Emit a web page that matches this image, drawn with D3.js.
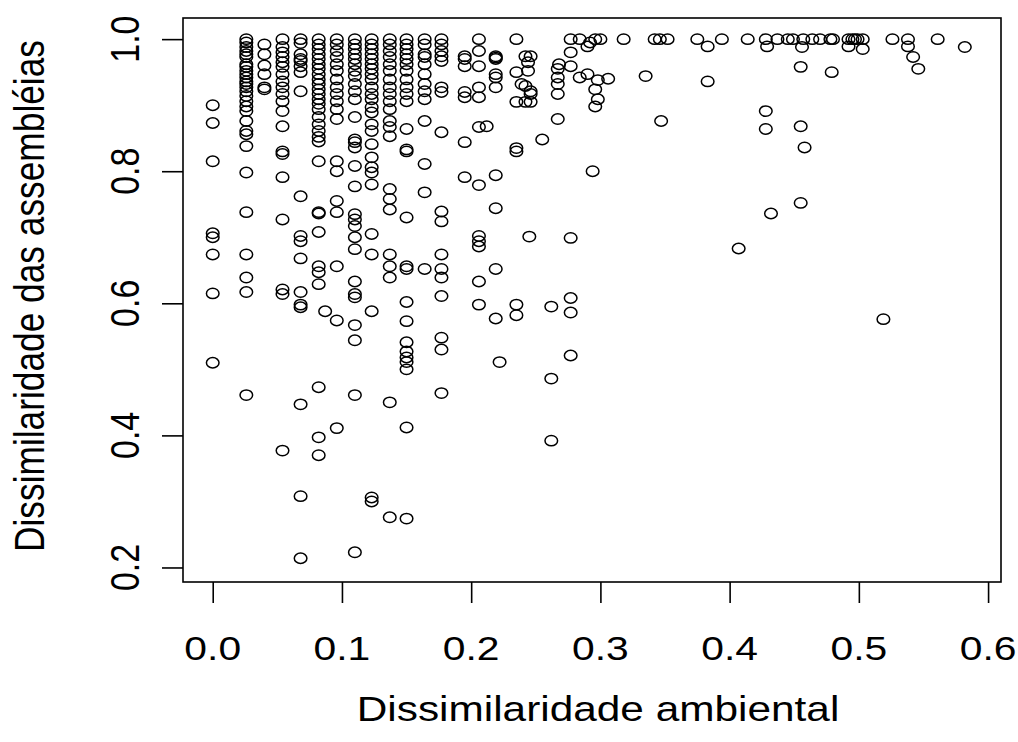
<!DOCTYPE html>
<html>
<head>
<meta charset="utf-8">
<script src="https://cdn.jsdelivr.net/npm/d3@7"></script>
<style>
  html, body { margin: 0; padding: 0; background: #fff; }
  svg { display: block; }
  text { font-family: "Liberation Sans", Arial, Helvetica, sans-serif; fill: #000; }
</style>
</head>
<body>
<div id="chart"></div>
<script>
// x positions of the dense columns on the left, and the y values in each
const colX = [0, 0.026, 0.040, 0.054, 0.068, 0.082, 0.096, 0.110, 0.123, 0.137, 0.150, 0.164, 0.177, 0.195, 0.206, 0.219];
const colY = [
  [0.900, 0.873, 0.815, 0.706, 0.700, 0.674, 0.615, 0.510],
  [1.0, 0.995, 0.988, 0.982, 0.977, 0.973, 0.962, 0.958, 0.952, 0.947, 0.942, 0.936, 0.932, 0.927, 0.921, 0.914, 0.906, 0.898, 0.891, 0.876, 0.861, 0.856, 0.838, 0.798, 0.738, 0.674, 0.639, 0.617, 0.461],
  [0.992, 0.977, 0.960, 0.947, 0.927, 0.924],
  [1.0, 0.988, 0.980, 0.973, 0.965, 0.958, 0.947, 0.936, 0.927, 0.917, 0.906, 0.891, 0.868, 0.830, 0.826, 0.791, 0.727, 0.621, 0.614, 0.377],
  [1.0, 0.994, 0.977, 0.970, 0.967, 0.959, 0.950, 0.921, 0.762, 0.702, 0.694, 0.668, 0.617, 0.598, 0.594, 0.447, 0.308, 0.214],
  [1.0, 0.992, 0.985, 0.977, 0.970, 0.962, 0.955, 0.947, 0.939, 0.932, 0.924, 0.917, 0.909, 0.902, 0.894, 0.882, 0.871, 0.861, 0.852, 0.845, 0.815, 0.738, 0.736, 0.708, 0.656, 0.647, 0.629, 0.473, 0.397, 0.370],
  [1.0, 0.992, 0.982, 0.973, 0.962, 0.952, 0.939, 0.927, 0.917, 0.906, 0.894, 0.879, 0.815, 0.800, 0.755, 0.738, 0.656, 0.574, 0.411],
  [1.0, 0.992, 0.985, 0.977, 0.970, 0.962, 0.952, 0.944, 0.932, 0.921, 0.909, 0.882, 0.848, 0.844, 0.836, 0.808, 0.777, 0.735, 0.727, 0.717, 0.700, 0.682, 0.633, 0.614, 0.609, 0.567, 0.544, 0.461, 0.223],
  [1.0, 0.992, 0.985, 0.977, 0.970, 0.962, 0.955, 0.947, 0.939, 0.927, 0.917, 0.909, 0.897, 0.889, 0.871, 0.861, 0.841, 0.821, 0.806, 0.798, 0.780, 0.705, 0.674, 0.588, 0.306, 0.300],
  [1.0, 0.992, 0.982, 0.973, 0.962, 0.952, 0.939, 0.927, 0.917, 0.906, 0.894, 0.876, 0.867, 0.853, 0.773, 0.758, 0.742, 0.674, 0.656, 0.639, 0.450, 0.276],
  [1.0, 0.992, 0.985, 0.977, 0.970, 0.962, 0.952, 0.939, 0.927, 0.917, 0.906, 0.864, 0.833, 0.830, 0.730, 0.656, 0.652, 0.602, 0.573, 0.541, 0.527, 0.518, 0.511, 0.500, 0.412, 0.274],
  [1.0, 0.992, 0.977, 0.973, 0.962, 0.947, 0.932, 0.921, 0.909, 0.876, 0.811, 0.768, 0.652],
  [1.0, 0.992, 0.982, 0.974, 0.967, 0.927, 0.920, 0.859, 0.739, 0.724, 0.674, 0.652, 0.639, 0.611, 0.548, 0.530, 0.464],
  [0.974, 0.970, 0.959, 0.920, 0.912, 0.844, 0.791],
  [1.0, 0.982, 0.959, 0.927, 0.912, 0.867, 0.779, 0.702, 0.694, 0.686, 0.633, 0.598],
  [0.974, 0.972, 0.970, 0.947, 0.942, 0.927, 0.794, 0.744, 0.652, 0.577]
];

// the sparser points to the right
const otherPts = [
  [0.087, 0.588], [0.212, 0.868], [0.222, 0.511],
  [0.235, 1.0], [0.235, 0.950], [0.235, 0.905], [0.235, 0.835], [0.235, 0.830], [0.235, 0.598], [0.235, 0.582],
  [0.239, 0.932], [0.242, 0.974], [0.246, 0.974], [0.244, 0.965], [0.244, 0.952], [0.242, 0.929],
  [0.246, 0.921], [0.246, 0.917], [0.242, 0.905], [0.246, 0.905], [0.245, 0.701],
  [0.255, 0.848], [0.262, 0.595], [0.262, 0.486], [0.262, 0.392],
  [0.268, 0.962], [0.267, 0.955], [0.267, 0.942], [0.267, 0.932], [0.267, 0.917], [0.267, 0.879],
  [0.277, 1.0], [0.277, 0.980], [0.277, 0.959], [0.277, 0.699], [0.277, 0.608], [0.277, 0.586], [0.277, 0.521],
  [0.284, 1.0], [0.284, 0.942], [0.290, 0.989], [0.290, 0.947], [0.292, 0.995], [0.296, 1.0],
  [0.298, 0.938], [0.296, 0.924], [0.298, 0.909], [0.296, 0.898], [0.294, 0.800], [0.300, 1.0], [0.306, 0.940],
  [0.318, 1.0], [0.342, 1.0], [0.346, 1.0], [0.352, 1.0], [0.375, 1.0], [0.383, 0.989], [0.394, 1.0],
  [0.414, 1.0], [0.428, 1.0], [0.429, 0.989], [0.437, 1.0], [0.445, 1.0], [0.449, 1.0], [0.456, 0.988],
  [0.457, 1.0], [0.464, 1.0], [0.470, 1.0], [0.478, 1.0], [0.480, 1.0], [0.492, 1.0], [0.495, 1.0],
  [0.497, 1.0], [0.499, 1.0], [0.503, 1.0], [0.492, 0.989], [0.503, 0.985], [0.526, 1.0], [0.538, 1.0],
  [0.538, 0.989], [0.561, 1.0], [0.582, 0.988], [0.542, 0.973], [0.546, 0.955], [0.455, 0.958],
  [0.479, 0.950], [0.335, 0.944], [0.383, 0.936], [0.347, 0.876], [0.428, 0.891], [0.428, 0.864],
  [0.455, 0.868], [0.458, 0.836], [0.455, 0.752], [0.432, 0.736], [0.407, 0.683], [0.519, 0.576]
];

const xTicks = [0, 0.1, 0.2, 0.3, 0.4, 0.5, 0.6];
const yTicks = [0.2, 0.4, 0.6, 0.8, 1.0];
const xLabel = 'Dissimilaridade ambiental';
const yLabel = 'Dissimilaridade das assembléias';

const width = 1018, height = 742;
const box = { left: 183, right: 1001, top: 18, bottom: 582 };
const stretch = 1.2;   // the original has wide pixels
const tickFont = 34;
const titleFont = 35.3;

let points = [];
colX.forEach((x, i) => colY[i].forEach((y) => points.push({ x, y })));
otherPts.forEach(([x, y]) => points.push({ x, y }));

const xScale = d3.scaleLinear().domain([-0.023, 0.610]).range([box.left, box.right]);
const yScale = d3.scaleLinear().domain([0.178, 1.032]).range([box.bottom, box.top]);

const svg = d3.select('#chart').append('svg')
  .attr('width', width)
  .attr('height', height);

// axes (ticks only, labels below)
const xAxis = svg.append('g')
  .attr('transform', `translate(0, ${box.bottom})`)
  .call(d3.axisBottom(xScale).tickValues(xTicks).tickSize(21).tickFormat(''));
const yAxis = svg.append('g')
  .attr('transform', `translate(${box.left}, 0)`)
  .call(d3.axisLeft(yScale).tickValues(yTicks).tickSize(21).tickFormat(''));

[xAxis, yAxis].forEach((g) => {
  g.select('.domain').remove();
  g.selectAll('line').attr('stroke', '#000').attr('stroke-width', 1.6);
});

svg.append('g').selectAll('text')
  .data(xTicks)
  .join('text')
  .attr('transform', (d) => `translate(${xScale(d)}, 660) scale(${stretch}, 1)`)
  .attr('text-anchor', 'middle')
  .style('font-size', tickFont + 'px')
  .text(d3.format('.1f'));

svg.append('g').selectAll('text')
  .data(yTicks)
  .join('text')
  .attr('transform', (d) => `translate(139, ${yScale(d)}) scale(${stretch}, 1) rotate(-90)`)
  .attr('text-anchor', 'middle')
  .style('font-size', tickFont + 'px')
  .text(d3.format('.1f'));

svg.append('text')
  .attr('transform', `translate(598, 721) scale(${stretch}, 1)`)
  .attr('text-anchor', 'middle')
  .style('font-size', titleFont + 'px')
  .text(xLabel);

svg.append('text')
  .attr('transform', `translate(44, 296) scale(${stretch}, 1) rotate(-90)`)
  .attr('text-anchor', 'middle')
  .style('font-size', titleFont + 'px')
  .text(yLabel);

// plot box
svg.append('rect')
  .attr('x', box.left)
  .attr('y', box.top)
  .attr('width', box.right - box.left)
  .attr('height', box.bottom - box.top)
  .attr('fill', 'none')
  .attr('stroke', '#000')
  .attr('stroke-width', 1.6);

// open circles (drawn as ellipses because of the stretch)
svg.append('g').selectAll('ellipse')
  .data(points)
  .join('ellipse')
  .attr('cx', (d) => xScale(d.x))
  .attr('cy', (d) => yScale(d.y))
  .attr('rx', 6.3)
  .attr('ry', 5.2)
  .attr('fill', 'none')
  .attr('stroke', '#000')
  .attr('stroke-width', 1.5);
</script>
</body>
</html>
